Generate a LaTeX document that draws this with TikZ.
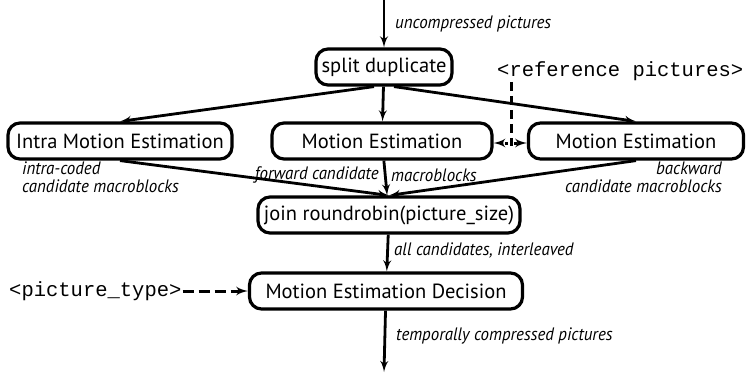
\documentclass[tikz,border=0pt]{standalone}
\usepackage{fontspec}
\setmainfont{PT Sans}
\setmonofont{Liberation Mono}
\newfontfamily\lblfont[FakeStretch=0.94]{PT Sans}
\usetikzlibrary{positioning,arrows,shapes}
\tikzstyle{block} = [rectangle, rounded corners=12pt, draw, line width=3.2pt, minimum height=36pt, inner xsep=4pt, font=\fontsize{20.5}{22}\selectfont]
\tikzstyle{line} = [draw, line width=2.8pt, -latex']
\tikzstyle{dline} = [line, line width=3pt, dash pattern=on 11pt off 5pt]
\tikzstyle{lbl} = [font=\lblfont\itshape\fontsize{18}{17.5}\selectfont, inner sep=0pt]
\tikzstyle{param} = [font=\ttfamily\fontsize{20.5}{20}\selectfont, inner sep=1pt]

\begin{document}
\begin{tikzpicture}[x=1pt, y=-1pt, node distance=255pt, auto]
    \useasboundingbox (0,0) rectangle (751,372);
    % Blocks
    \node [block, minimum width=136pt] (split) at (384,67) {split duplicate};
    \node [block, minimum width=220pt] (me) at (382,141) {Motion Estimation};
    \node [block, minimum width=224pt, left of=me, node distance=262pt] (intra) {Intra Motion Estimation};
    \node [block, minimum width=215pt, right of=me, node distance=254pt] (meb) {Motion Estimation};
    \node [block, minimum width=262pt] (join) at (389,215) {join roundrobin(picture\_size)};
    \node [block, minimum width=273pt] (dec) at (386,291) {Motion Estimation Decision};
    % Ends and parameters
    \coordinate (in) at (384,0);
    \coordinate (out) at (384,372);
    \coordinate (bidir) at (511,143);
    \node [param, anchor=west] (ref) at (496,71) {<reference pictures>};
    \node [param, anchor=west] (ptype) at (8,291) {<picture\_type>};
    % Lines
    \path [line] (in) -- (split);
    \path [line] (split) -- (me);
    \path [line] ([xshift=-10pt]split.south) -- (intra.north);
    \path [line] ([xshift=10pt]split.south) -- (meb.north);
    \path [line] (intra.south) -- (join.north);
    \path [line] (me) -- (join);
    \path [line] (meb.south) -- (join.north);
    \path [line] (join) -- (dec);
    \path [line] (dec) -- (out);
    \path [dline, -, dash pattern=on 9pt off 5pt] (ref.south -| bidir) -- ([yshift=-3pt]bidir);
    \path [dline, dash pattern=on 3pt off 2pt] ([xshift=-3pt]bidir) -- (bidir -| me.east);
    \path [dline, dash pattern=on 3pt off 2pt] ([xshift=3pt]bidir) -- (bidir -| meb.west);
    \path [dline] (ptype) -- (dec);
    % Labels
    \node [lbl, anchor=west] (lin) at (395,24) {uncompressed pictures};
    \node [lbl, anchor=north west, align=left] (lintra) at (22,162) {intra-coded\\candidate macroblocks};
    \node [lbl, anchor=east] (lfwd) at (379,175) {forward candidate};
    \node [lbl, anchor=west] (lfwd2) at (391,175) {macroblocks};
    \node [lbl, anchor=north east, align=right] (lback) at (722,162) {backward\\candidate macroblocks};
    \node [lbl, anchor=west] (lall) at (394,250) {all candidates, interleaved};
    \node [lbl, anchor=west] (lout) at (396,336) {temporally compressed pictures};
\end{tikzpicture}
\end{document}
